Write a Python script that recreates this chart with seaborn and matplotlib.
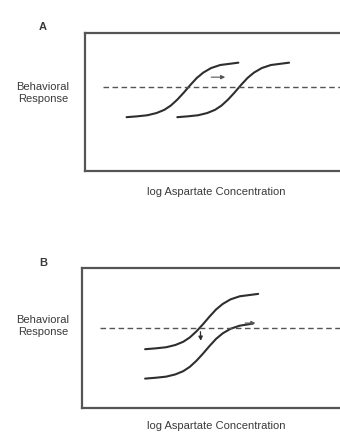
import matplotlib
matplotlib.use("Agg")
import matplotlib.pyplot as plt
import seaborn as sns
import pandas as pd

# Panel A: control curve and right-shifted curve (x = log concentration, y = response)
a_ctrl_x = [1.6, 2.0, 2.4, 2.75, 3.05, 3.3, 3.55, 3.8, 4.05, 4.3, 4.55, 4.85, 5.2, 5.9]
a_ctrl_y = [0.39, 0.396, 0.404, 0.42, 0.443, 0.474, 0.517, 0.568, 0.623, 0.674, 0.713, 0.746, 0.768, 0.785]
a_shift_x = [3.55, 3.95, 4.35, 4.7, 5.0, 5.25, 5.5, 5.75, 6.0, 6.25, 6.5, 6.8, 7.15, 7.85]
a_shift_y = [0.39, 0.396, 0.404, 0.42, 0.443, 0.474, 0.517, 0.568, 0.623, 0.674, 0.713, 0.746, 0.768, 0.785]
a_threshold = 0.61

# Panel B: control curve and downward-shifted curve
b_ctrl_x = [2.4, 2.8, 3.2, 3.55, 3.85, 4.1, 4.35, 4.6, 4.85, 5.1, 5.35, 5.65, 6.0, 6.7]
b_ctrl_y = [0.42, 0.426, 0.434, 0.45, 0.473, 0.504, 0.547, 0.598, 0.653, 0.704, 0.743, 0.776, 0.798, 0.815]
b_shift_x = [2.4, 2.8, 3.2, 3.55, 3.85, 4.1, 4.35, 4.6, 4.85, 5.1, 5.35, 5.65, 6.0, 6.5]
b_shift_y = [0.21, 0.216, 0.224, 0.24, 0.263, 0.294, 0.337, 0.388, 0.443, 0.494, 0.533, 0.566, 0.588, 0.603]
b_threshold = 0.57

panel_letters = ["A", "B"]
y_label = "Behavioral\nResponse"
x_label = "log Aspartate Concentration"

sns.set_theme(style="white")
plt.rcParams["font.family"] = ["Liberation Sans", "DejaVu Sans"]

W, H = 340, 434
fig = plt.figure(figsize=(W / 100, H / 100), dpi=100)

def px_axes(left, top, right, bottom):
    return fig.add_axes([left / W, 1 - bottom / H, (right - left) / W, (bottom - top) / H])

ax_a = px_axes(85, 33, 346, 171)
ax_b = px_axes(82, 268, 346, 408)

line_col = "#2e2e2e"
text_col = "#3a3a3a"

def draw_panel(ax, curves, threshold, x0):
    for cx, cy in curves:
        df = pd.DataFrame({"x": cx, "y": cy})
        sns.lineplot(data=df, x="x", y="y", ax=ax, sort=False, estimator=None,
                     color=line_col, linewidth=1.5, solid_capstyle="round",
                     solid_joinstyle="round")
    ax.hlines(threshold, x0, 11, colors="#555555", linewidth=1.0,
              linestyles=(0, (4, 2.5)))
    ax.set_xlim(0, 10.04)
    ax.set_ylim(0, 1)
    ax.set_xticks([])
    ax.set_yticks([])
    ax.set_xlabel("")
    ax.set_ylabel("")
    for s in ax.spines.values():
        s.set_color("#555555")
        s.set_linewidth(1.6)

draw_panel(ax_a, [(a_ctrl_x, a_ctrl_y), (a_shift_x, a_shift_y)], a_threshold, 0.7)
draw_panel(ax_b, [(b_ctrl_x, b_ctrl_y), (b_shift_x, b_shift_y)], b_threshold, 0.7)

# shift indicators
ax_a.annotate("", xy=(5.5, 0.68), xytext=(4.75, 0.68),
              arrowprops=dict(arrowstyle="-|>", color="#555555", lw=0.8,
                              mutation_scale=6))
ax_b.annotate("", xy=(4.52, 0.46), xytext=(4.5, 0.565),
              arrowprops=dict(arrowstyle="-|>", color=line_col, lw=0.9,
                              mutation_scale=6))
ax_b.annotate("", xy=(6.7, 0.607), xytext=(6.1, 0.607),
              arrowprops=dict(arrowstyle="-|>", color="#555555", lw=0.8,
                              mutation_scale=6))

# panel letters and labels
for letter, ly, yl, xl in [(panel_letters[0], 27, 93, 192),
                           (panel_letters[1], 263, 326, 426)]:
    fig.text(43 / W, 1 - ly / H, letter, ha="center", va="center",
             fontsize=8, fontweight="bold", color=text_col)
    fig.text(43 / W, 1 - yl / H, y_label, ha="center", va="center",
             fontsize=8, color=text_col, linespacing=1.15)
    fig.text(216 / W, 1 - xl / H, x_label, ha="center", va="center",
             fontsize=8, color=text_col)

fig.savefig("out.png", dpi=100, facecolor="white")
